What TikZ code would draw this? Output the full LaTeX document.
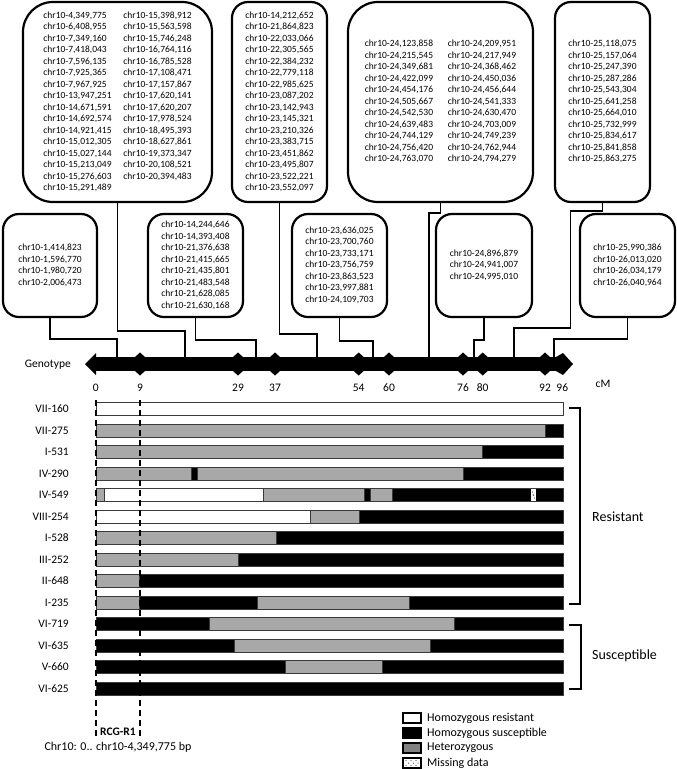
\documentclass[tikz,border=0pt]{standalone}
\usepackage{fontspec}
\setmainfont{Carlito}
\usetikzlibrary{calc}
\definecolor{hetbar}{HTML}{A8A8A8}
\definecolor{hetleg}{HTML}{808080}
\definecolor{bardraw}{HTML}{3A3A3A}
\begin{document}
\begin{tikzpicture}[x=1pt,y=-1pt,
  tbox/.style={draw=black, line width=2.2, rounded corners=16, align=left, inner sep=0pt,
    font=\fontsize{9.5}{11.5}\selectfont},
  conn/.style={draw=black, line width=1.9},
  rowlbl/.style={anchor=east, inner sep=0pt, font=\fontsize{11.5}{13}\selectfont},
  numlbl/.style={inner sep=0pt, font=\fontsize{11.5}{13}\selectfont},
  grplbl/.style={anchor=west, inner sep=0pt, font=\fontsize{14}{16}\selectfont},
  leglbl/.style={anchor=west, inner sep=0pt, font=\fontsize{12}{14}\selectfont},
  legbox/.style={draw=black, line width=1.1, minimum width=18, minimum height=10, inner sep=0pt},
  brack/.style={draw=black, line width=1.8},
  dashv/.style={draw=black, line width=1.8, dash pattern=on 6pt off 4pt}
]
\useasboundingbox (0,0) rectangle (677,769);

% ---------- top boxes ----------
\node[tbox, minimum width=189, minimum height=200, rounded corners=30] (A) at (117.5,102) {%
\begin{tabular}{@{}p{80pt}@{}l@{}}
chr10-4,349,775 & chr10-15,398,912\\
chr10-6,408,955 & chr10-15,563,598\\
chr10-7,349,160 & chr10-15,746,248\\
chr10-7,418,043 & chr10-16,764,116\\
chr10-7,596,135 & chr10-16,785,528\\
chr10-7,925,365 & chr10-17,108,471\\
chr10-7,967,925 & chr10-17,157,867\\
chr10-13,947,251 & chr10-17,620,141\\
chr10-14,671,591 & chr10-17,620,207\\
chr10-14,692,574 & chr10-17,978,524\\
chr10-14,921,415 & chr10-18,495,393\\
chr10-15,012,305 & chr10-18,627,861\\
chr10-15,027,144 & chr10-19,373,347\\
chr10-15,213,049 & chr10-20,108,521\\
chr10-15,276,603 & chr10-20,394,483\\
chr10-15,291,489 &
\end{tabular}};

\node[tbox, minimum width=95, minimum height=200] (B) at (279.5,102) {%
\begin{tabular}{@{}l@{}}
chr10-14,212,652\\
chr10-21,864,823\\
chr10-22,033,066\\
chr10-22,305,565\\
chr10-22,384,232\\
chr10-22,779,118\\
chr10-22,985,625\\
chr10-23,087,202\\
chr10-23,142,943\\
chr10-23,145,321\\
chr10-23,210,326\\
chr10-23,383,715\\
chr10-23,451,862\\
chr10-23,495,807\\
chr10-23,522,221\\
chr10-23,552,097
\end{tabular}};

\node[tbox, minimum width=185, minimum height=200, rounded corners=30] (C) at (440.5,102) {%
\begin{tabular}{@{}p{83pt}@{}l@{}}
chr10-24,123,858 & chr10-24,209,951\\
chr10-24,215,545 & chr10-24,217,949\\
chr10-24,349,681 & chr10-24,368,462\\
chr10-24,422,099 & chr10-24,450,036\\
chr10-24,454,176 & chr10-24,456,644\\
chr10-24,505,667 & chr10-24,541,333\\
chr10-24,542,530 & chr10-24,630,470\\
chr10-24,639,483 & chr10-24,703,009\\
chr10-24,744,129 & chr10-24,749,239\\
chr10-24,756,420 & chr10-24,762,944\\
chr10-24,763,070 & chr10-24,794,279
\end{tabular}};

\node[tbox, minimum width=95, minimum height=200] (D) at (602.5,102) {%
\begin{tabular}{@{}l@{}}
chr10-25,118,075\\
chr10-25,157,064\\
chr10-25,247,390\\
chr10-25,287,286\\
chr10-25,543,304\\
chr10-25,641,258\\
chr10-25,664,010\\
chr10-25,732,999\\
chr10-25,834,617\\
chr10-25,841,858\\
chr10-25,863,275
\end{tabular}};

% ---------- second row boxes ----------
\node[tbox, minimum width=94, minimum height=103] (E) at (50,265.5) {%
\begin{tabular}{@{}l@{}}
chr10-1,414,823\\
chr10-1,596,770\\
chr10-1,980,720\\
chr10-2,006,473
\end{tabular}};

\node[tbox, minimum width=95, minimum height=103] (F) at (195.5,265.5) {%
\begin{tabular}{@{}l@{}}
chr10-14,244,646\\
chr10-14,393,408\\
chr10-21,376,638\\
chr10-21,415,665\\
chr10-21,435,801\\
chr10-21,483,548\\
chr10-21,628,085\\
chr10-21,630,168
\end{tabular}};

\node[tbox, minimum width=95, minimum height=103] (G) at (339.5,265.5) {%
\begin{tabular}{@{}l@{}}
chr10-23,636,025\\
chr10-23,700,760\\
chr10-23,733,171\\
chr10-23,756,759\\
chr10-23,863,523\\
chr10-23,997,881\\
chr10-24,109,703
\end{tabular}};

\node[tbox, minimum width=96, minimum height=103] (H) at (484,265.5) {%
\begin{tabular}{@{}l@{}}
chr10-24,896,879\\
chr10-24,941,007\\
chr10-24,995,010
\end{tabular}};

\node[tbox, minimum width=95, minimum height=103] (I) at (627.5,265.5) {%
\begin{tabular}{@{}l@{}}
chr10-25,990,386\\
chr10-26,013,020\\
chr10-26,034,179\\
chr10-26,040,964
\end{tabular}};

% ---------- axis ----------
\fill[black] (95,357) rectangle (560,371);
\fill[black] (85,364) -- (96,353) -- (96,375) -- cycle;
\fill[black] (556,357) -- (563,353) -- (573,364) -- (563,375) -- (556,371) -- cycle;
\foreach \mx in {140,238,275,358.7,389,463,482.7,545} {
  \fill[black] (\mx-5,357) -- (\mx,352.5) -- (\mx+5,357) -- (\mx+5,371) -- (\mx,375.5) -- (\mx-5,371) -- cycle;
}
\node[anchor=east, inner sep=0pt, font=\fontsize{11.5}{13}\selectfont] (gt) at (71,365) {Genotype};
\node[numlbl] (cm) at (603,384) {cM};
\foreach \nx/\nt in {95.7/0,140/9,238/29,275/37,358.7/54,389/60,463/76,482.7/80,545/92,562.3/96} {
  \node[numlbl] (n\nt) at (\nx,388) {\nt};
}

% attachment points on the axis
\coordinate (tE) at (117,357);
\coordinate (tA) at (185,357);
\coordinate (tF) at (256,357);
\coordinate (tB) at (317,357);
\coordinate (tG) at (373,357);
\coordinate (tC) at (429,357);
\coordinate (tH) at (474,357);
\coordinate (tD) at (514,357);
\coordinate (tI) at (554,357);

% ---------- connectors ----------
\draw[conn] (E.south) -- ++(0,21) -| (tE);
\draw[conn] (A.south) -- ++(0,128) -| (tA);
\draw[conn] (F.south) -- ++(0,22) -| (tF);
\draw[conn] (B.south) -- ++(0,131) -| (tB);
\draw[conn] (G.south) -- ++(0,23) -| (tG);
\draw[conn] (C.south) -- ++(0,10) -| (tC);
\draw[conn] (H.south) -- ++(0,22) -| (tH);
\draw[conn] (D.south) -- ++(0,8) -| ++(-32,117) -| (tD);
\draw[conn] (I.south) -- ++(0,21) -| (tI);

% ---------- bars ----------
\foreach \i/\segs in {
 0/{96/563/white},
 1/{96/545.7/hetbar,545.7/563/black},
 2/{96/482.3/hetbar,482.3/563/black},
 3/{96/191.7/hetbar,191.7/197.3/black,197.3/463.3/hetbar,463.3/563/black},
 4/{96/104/hetbar,104/263.3/white,263.3/364.3/hetbar,364.3/370/black,370/392.7/hetbar,392.7/563/black},
 5/{96/310/white,310/359.3/hetbar,359.3/563/black},
 6/{96/276/hetbar,276/563/black},
 7/{96/238.3/hetbar,238.3/563/black},
 8/{96/139/hetbar,139/563/black},
 9/{96/139/hetbar,139/257.3/black,257.3/409.3/hetbar,409.3/563/black},
 10/{96/209/black,209/454.3/hetbar,454.3/563/black},
 11/{96/234.3/black,234.3/430.7/hetbar,430.7/563/black},
 12/{96/285/black,285/382.7/hetbar,382.7/563/black},
 13/{96/563/black}} {
  \pgfmathsetmacro\yy{409+21.5*\i}
  \foreach \a/\b/\c in \segs {
    \filldraw[fill=\c, draw=bardraw, line width=0.9] (\a,\yy-6.5) rectangle (\b,\yy+6.5);
  }
}
% missing data in IV-549
\fill[white] (531,495-6) rectangle (535.7,495+6);
\fill[black] (533.3,495) circle (0.7);
\fill[black] (532.3,492) circle (0.5);
\fill[black] (534.3,498) circle (0.5);

\foreach \i/\t in {0/VII-160,1/VII-275,2/I-531,3/IV-290,4/IV-549,5/VIII-254,6/I-528,
  7/III-252,8/II-648,9/I-235,10/VI-719,11/VI-635,12/V-660,13/VI-625} {
  \node[rowlbl] (lbl\i) at (69,409+21.5*\i) {\t};
}

% dashed region lines
\coordinate (d0t) at (96,400);
\coordinate (d0b) at (96,738);
\coordinate (d9t) at (140,400);
\coordinate (d9b) at (140,738);
\draw[dashv] (d0t) -- (d0b);
\draw[dashv] (d9t) -- (d9b);

\node[inner sep=0pt, font=\bfseries\fontsize{11.5}{13}\selectfont] (rcg) at (118,732) {RCG-R1};
\node[inner sep=0pt, font=\fontsize{12}{14}\selectfont] (chr) at (118,747) {Chr10: 0.. chr10-4,349,775 bp};

% ---------- brackets ----------
\coordinate (r1) at (569,408);
\coordinate (r2) at (569,604);
\draw[brack] (r1) -- ++(11,0) |- (r2);
\node[grplbl] (res) at (592,517) {Resistant};
\coordinate (s1) at (569,625);
\coordinate (s2) at (569,689);
\draw[brack] (s1) -- ++(12,0) |- (s2);
\node[grplbl] (sus) at (592,656) {Susceptible};

% ---------- legend ----------
\node[legbox, fill=white] (L1) at (412,718) {};
\node[legbox, fill=black] (L2) at (412,733) {};
\node[legbox, fill=hetleg] (L3) at (412,748) {};
\node[legbox, fill=white] (L4) at (412,763) {};
\foreach \dx/\dy in {-6/-2.5,-1/-2.5,4/-2.5,-3.5/0,1.5/0,6/0,-6/2.5,-1/2.5,4/2.5} {
  \fill[black] ($(L4.center)+(\dx,\dy)$) circle (0.5);
}
\node[leglbl] (T1) at (427,718) {Homozygous resistant};
\node[leglbl] (T2) at (427,733) {Homozygous susceptible};
\node[leglbl] (T3) at (427,748) {Heterozygous};
\node[leglbl] (T4) at (427,763) {Missing data};
\end{tikzpicture}
\end{document}
